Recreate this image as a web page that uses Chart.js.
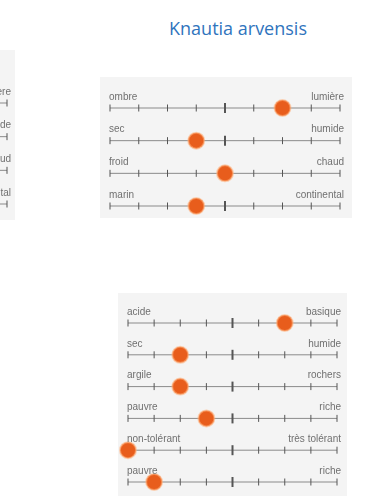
<!DOCTYPE html>
<html>
<head>
<meta charset="utf-8">
<script src="https://cdn.jsdelivr.net/npm/chart.js@4/dist/chart.umd.min.js"></script>
<style>
    body { margin: 0; width: 366px; height: 496px; background: #fff; position: relative; overflow: hidden; }
    #title { position: absolute; left: 110px; top: 16px; width: 256px; text-align: center;
             font-family: "Open Sans", sans-serif; font-size: 18px; color: #2f74bd; }
    canvas { position: absolute; }
</style>
</head>
<body>
<div id="title">Knautia arvensis</div>
<canvas id="leftChart" style="left:-237px;top:50px" width="252" height="170"></canvas>
<canvas id="climatChart" style="left:100px;top:77px" width="252" height="141"></canvas>
<canvas id="solChart" style="left:118px;top:293px" width="229" height="203"></canvas>
<script>
// scale steps 1..9, center tick is the thick one
const scaleSteps = [1, 2, 3, 4, 5, 6, 7, 8, 9];

// climate panel
const climatLeft = ['ombre', 'sec', 'froid', 'marin'];
const climatRight = ['lumière', 'humide', 'chaud', 'continental'];
const climatValues = [7, 4, 5, 4];

// soil panel
const solLeft = ['acide', 'sec', 'argile', 'pauvre', 'non-tolérant', 'pauvre'];
const solRight = ['basique', 'humide', 'rochers', 'riche', 'très tolérant', 'riche'];
const solValues = [7, 3, 3, 4, 1, 2];

// cut-off panel on the left edge (only its right end shows)
const leftRight = ['lumière', 'humide', 'chaud', 'continental'];

const rowLabels = {
    id: 'rowLabels',
    afterDatasetsDraw(chart, args, opts) {
        const ctx = chart.ctx;
        const xs = chart.scales.x, ys = chart.scales.y;
        ctx.save();
        ctx.font = '10px "Liberation Sans", Arial, sans-serif';
        ctx.fillStyle = '#707070';
        ctx.textBaseline = 'middle';
        (opts.left || []).forEach((txt, i) => {
            ctx.textAlign = 'left';
            ctx.fillText(txt, xs.getPixelForValue(scaleSteps[0]) - 1, ys.getPixelForValue(i) - 11);
        });
        (opts.right || []).forEach((txt, i) => {
            ctx.textAlign = 'right';
            ctx.fillText(txt, xs.getPixelForValue(scaleSteps[scaleSteps.length - 1]) + 4, ys.getPixelForValue(i) - 11);
        });
        ctx.restore();
    }
};

function makePanel(id, leftLabels, rightLabels, values, padding) {
    const rows = rightLabels.length;
    const datasets = [];
    if (values) {
        datasets.push({
            data: values.map((v, i) => ({ x: v, y: i })),
            pointRadius: 8,
            pointBackgroundColor: '#e85d1c',
            pointBorderColor: 'rgba(255,175,120,0.55)',
            pointBorderWidth: 2,
            showLine: false,
            clip: false
        });
    }
    for (let i = 0; i < rows; i++) {
        datasets.push({
            data: scaleSteps.map(s => ({ x: s, y: i })),
            showLine: true,
            clip: false,
            borderColor: '#8a8a8a',
            borderWidth: 1,
            pointStyle: 'line',
            rotation: 90,
            pointRadius: scaleSteps.map(s => s === 5 ? 5 : 3.5),
            pointBorderWidth: scaleSteps.map(s => s === 5 ? 2 : 1),
            pointBorderColor: '#555'
        });
    }
    new Chart(document.getElementById(id), {
        type: 'scatter',
        data: { datasets: datasets },
        options: {
            responsive: false,
            animation: false,
            events: [],
            layout: { padding: padding },
            scales: {
                x: { type: 'linear', min: 1, max: 9, display: false },
                y: { type: 'linear', min: 0, max: rows - 1, reverse: true, display: false }
            },
            plugins: {
                legend: { display: false },
                tooltip: { enabled: false },
                rowLabels: { left: leftLabels, right: rightLabels }
            }
        },
        plugins: [rowLabels, {
            id: 'panelBg',
            beforeDraw(chart) {
                const c = chart.ctx;
                c.save();
                c.fillStyle = '#f4f4f4';
                c.fillRect(0, 0, chart.width, chart.height);
                c.restore();
            }
        }]
    });
}

makePanel('leftChart', [], leftRight, null, { left: 7, right: 8, top: 53, bottom: 16 });
makePanel('climatChart', climatLeft, climatRight, climatValues, { left: 7, right: 12, top: 31, bottom: 12 });
makePanel('solChart', solLeft, solRight, solValues, { left: 4, right: 10, top: 30, bottom: 14 });
</script>
</body>
</html>
